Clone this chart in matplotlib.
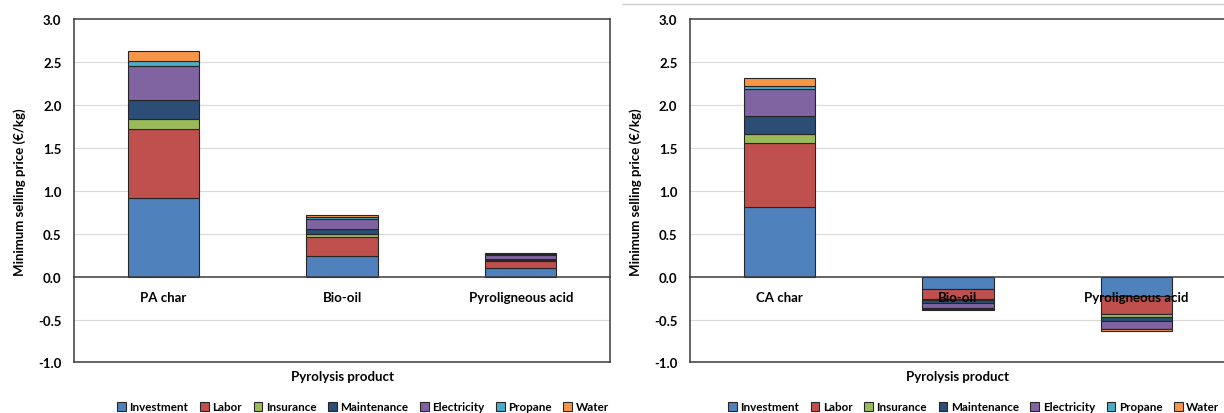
import numpy as np
import matplotlib
matplotlib.use('Agg')
import matplotlib.pyplot as plt
from matplotlib.lines import Line2D

plt.rcParams['font.family'] = ['Lato', 'DejaVu Sans']
plt.rcParams['font.weight'] = 'bold'

# Componentes do custo
componentes = ['Investment', 'Labor', 'Insurance', 'Maintenance', 'Electricity', 'Propane', 'Water']
cores = ['#4F81BD', '#C0504D', '#9BBB59', '#2C4D75', '#8064A2', '#4BACC6', '#F79646']

# Produtos (PA)
produtos_pa = ['PA char', 'Bio-oil', 'Pyroligneous acid']
investment_pa = [0.915, 0.245, 0.095]
labor_pa = [0.80, 0.22, 0.085]
insurance_pa = [0.12, 0.035, 0.01]
maintenance_pa = [0.225, 0.06, 0.02]
electricity_pa = [0.39, 0.11, 0.04]
propane_pa = [0.06, 0.02, 0.01]
water_pa = [0.115, 0.03, 0.02]

# Produtos (CA)
produtos_ca = ['CA char', 'Bio-oil', 'Pyroligneous acid']
investment_ca = [0.81, -0.14, -0.22]
labor_ca = [0.745, -0.12, -0.21]
insurance_ca = [0.11, -0.015, -0.035]
maintenance_ca = [0.205, -0.03, -0.055]
electricity_ca = [0.31, -0.06, -0.085]
propane_ca = [0.04, -0.01, -0.01]
water_ca = [0.09, -0.015, -0.02]

series_pa = [investment_pa, labor_pa, insurance_pa, maintenance_pa, electricity_pa, propane_pa, water_pa]
series_ca = [investment_ca, labor_ca, insurance_ca, maintenance_ca, electricity_ca, propane_ca, water_ca]

fig = plt.figure(figsize=(12.24, 4.14), dpi=100)
ax1 = fig.add_axes([0.0605, 0.122, 0.4379, 0.8297])
ax2 = fig.add_axes([0.5637, 0.122, 0.4379, 0.8297])


def plotar(ax, produtos, series):
    x = np.arange(len(produtos))
    base = np.zeros(len(produtos))
    for nome, cor, valores in zip(componentes, cores, series):
        valores = np.array(valores)
        ax.bar(x, valores, 0.4, bottom=base, color=cor, edgecolor='#262626',
               linewidth=0.8, label=nome, zorder=1)
        base = base + valores

    ax.set_xlim(-0.5, len(produtos) - 0.5)
    ax.set_ylim(-1.0, 3.0)
    yt = np.arange(-1.0, 3.01, 0.5)
    ax.set_yticks(yt)
    ax.set_yticklabels([f'{v:.1f}' for v in yt])
    for v in yt:
        if -1.0 < v < 3.0 and v != 0:
            ax.axhline(v, color='#d9d9d9', linewidth=0.8, zorder=0)

    # eixo das categorias cruza em zero
    ax.spines['bottom'].set_position(('data', 0))
    for s in ax.spines.values():
        s.set_color('#3a3a3a')
        s.set_linewidth(1.1)
    ax.plot([0, 1], [0, 0], transform=ax.transAxes, color='#3a3a3a',
            linewidth=1.1, clip_on=False)

    ax.set_xticks(x)
    ax.set_xticklabels(produtos, fontsize=9.5, fontweight='bold')
    ax.tick_params(axis='x', length=0, pad=10)
    ax.tick_params(axis='y', length=0, pad=9, labelsize=9.5)

    ax.set_ylabel('Minimum selling price (€/kg)', fontsize=9.5, fontweight='bold')
    ax.yaxis.set_label_coords(-0.09, 0.5)
    ax.text(0.5, -0.04, 'Pyrolysis product', transform=ax.transAxes,
            ha='center', va='center', fontsize=9.5, fontweight='bold')


plotar(ax1, produtos_pa, series_pa)
plotar(ax2, produtos_ca, series_ca)

for ax, cx in [(ax1, 0.2966), (ax2, 0.7954)]:
    ax.legend(loc='center', bbox_to_anchor=(cx, 0.0145), bbox_transform=fig.transFigure,
              ncol=7, frameon=False, fontsize=8.4, handlelength=0.75, handleheight=0.75,
              handletextpad=0.3, columnspacing=1.0, borderpad=0)

fig.add_artist(Line2D([622 / 1224, 1.0], [1 - 5 / 414, 1 - 5 / 414],
                      color='#d0d0d0', linewidth=1.0))

fig.savefig('out.png', dpi=100)
